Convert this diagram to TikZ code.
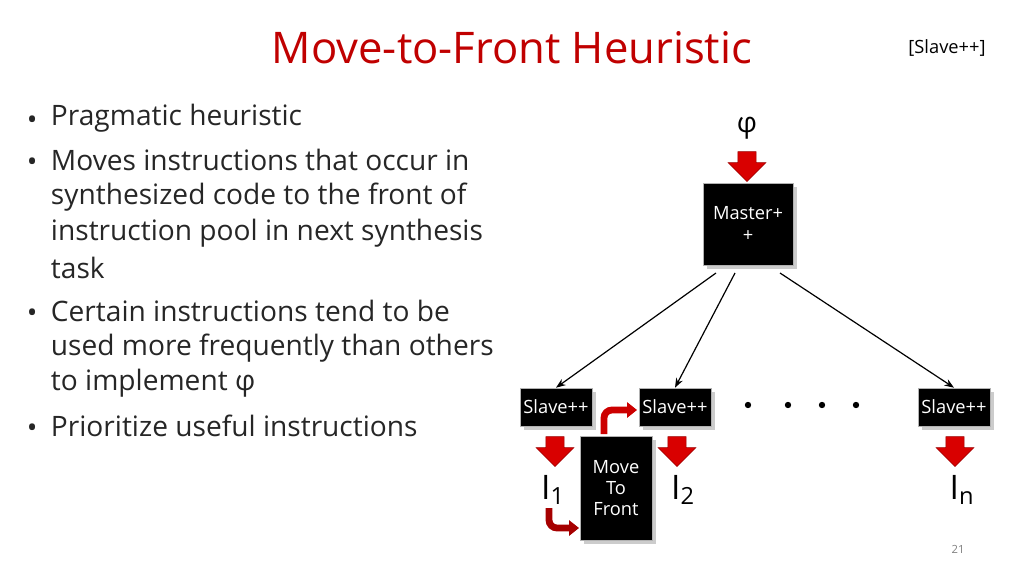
\documentclass[tikz,border=0pt]{standalone}
\usepackage{fontspec}
\setmainfont{Open Sans}
\usetikzlibrary{shapes.arrows,arrows.meta,shadows}

\begin{document}
\begin{tikzpicture}[x=0.025cm,y=-0.025cm,
    blackbox/.style={shape=rectangle,fill=black,text=white,draw=gray!60,drop shadow={opacity=0.4},font=\fontsize{13}{15}\selectfont,inner sep=1pt,align=center},
    redarrow/.style={single arrow,fill=red!85!black,draw=red!60!black,rotate=-90,minimum height=0.75cm,minimum width=0.95cm,single arrow head extend=0.16cm,inner sep=0.14cm},
    bentarrow/.style={line width=0.17cm,color=red!65!black,-{Triangle[length=0.25cm,width=0.38cm]},rounded corners=0.2cm},
    linkarrow/.style={->,>=Stealth,line width=0.03cm},
    bulletline/.style={anchor=west,font=\fontsize{20}{24}\selectfont,text=black!85}]
    \definecolor{mtf_title}{RGB}{192,0,0}
    \useasboundingbox (0,0) rectangle (1024,576);

    \node[text=mtf_title,font=\fontsize{31}{36}\selectfont] (title) at (512,48) {Move-to-Front Heuristic};
    \node[font=\fontsize{13}{15}\selectfont] (tag) at (947,48) {[Slave++]};

    % left bullets
    \foreach \y/\b/\txt in {118/1/Pragmatic heuristic,
        160/1/Moves instructions that occur in,
        197/0/synthesized code to the front of,
        233/0/instruction pool in next synthesis,
        268/0/task,
        311/1/Certain instructions tend to be,
        348/0/used more frequently than others,
        383/0/to implement φ,
        426/1/Prioritize useful instructions} {
        \node[bulletline] (line\y) at (46,\y) {\txt};
        \ifnum\b=1 \node[bulletline] (dot\y) at (22,\y+5) {•}; \fi
    }

    % master and slaves
    \node[font=\fontsize{20}{24}\selectfont] (phi) at (747,128) {φ};
    \node[redarrow] (phiarrow) at (747,162) {};
    \node[blackbox,minimum width=2.25cm,minimum height=2.05cm] (master) at (748,224) {Master+\\+};

    \node[blackbox,minimum width=1.8cm,minimum height=0.95cm] (slave1) at (556,407) {Slave++};
    \node[blackbox,minimum width=1.8cm,minimum height=0.95cm] (slave2) at (675,407) {Slave++};
    \node[blackbox,minimum width=1.8cm,minimum height=0.95cm] (slaven) at (954,407) {Slave++};
    \node[blackbox,minimum width=1.8cm,minimum height=2.6cm] (mtf) at (616,488) {Move\\To\\Front};

    \foreach \x in {748,788,822,856}
        \node[circle,fill=black,inner sep=1.6pt] (dot\x) at (\x,405) {};

    \draw[linkarrow] (716,273) to (slave1.north);
    \draw[linkarrow] (735,273) to (slave2.north);
    \draw[linkarrow] (780,273) to (slaven.north);

    \node[redarrow] (out1) at (555,447) {};
    \node[redarrow] (out2) at (677,447) {};
    \node[redarrow] (outn) at (955,447) {};

    \node[font=\fontsize{24}{28}\selectfont] (i1) at (553,490) {I\textsubscript{1}};
    \node[font=\fontsize{24}{28}\selectfont] (i2) at (683,490) {I\textsubscript{2}};
    \node[font=\fontsize{24}{28}\selectfont] (in) at (962,490) {I\textsubscript{n}};

    \coordinate (upfrom) at (604,434);
    \coordinate (upto) at (637,410);
    \draw[bentarrow,color=red!80!black] (upfrom) |- (upto);
    \coordinate (lowfrom) at (549,508);
    \coordinate (lowto) at (579,528);
    \draw[bentarrow] (lowfrom) |- (lowto);

    \node[text=gray,font=\fontsize{8}{10}\selectfont] (page) at (958,549) {21};
\end{tikzpicture}
\end{document}
